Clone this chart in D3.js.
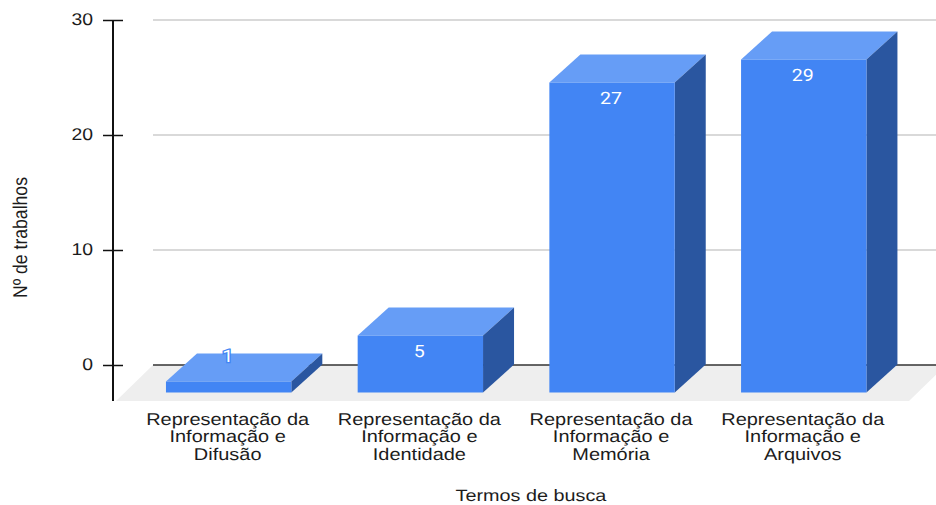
<!DOCTYPE html>
<html>
<head>
<meta charset="utf-8">
<script src="https://cdn.jsdelivr.net/npm/d3@7"></script>
<style>
html,body{margin:0;padding:0;background:#fff;overflow:hidden}
svg{display:block;text-rendering:geometricPrecision}
</style>
</head>
<body>
<svg id="chart" width="936" height="505"></svg>
<script>
const categories = ["Difusão", "Identidade", "Memória", "Arquivos"];
const values = [1, 5, 27, 29];
const labelLines = ["Representação da", "Informação e"];
const yTicks = [0, 10, 20, 30];
const xTitle = "Termos de busca";
const yTitle = "Nº de trabalhos";

const svg = d3.select("#chart");
const sans = "'Liberation Sans', Arial, sans-serif";
const ink = "#1c1c1c";
const depthX = 31, depthY = 28, floorY = 27.5, floorEdge = 36, stretch = 1.173;

const y = d3.scaleLinear().domain([0, 30]).range([365, 20]);
const x = d3.scaleBand().domain(categories).range([132.8, 899.6]).paddingInner(0.346).paddingOuter(0.173);

// floor
const y0 = y(0);
svg.append("path")
  .attr("d", d3.line()([[153, y0], [946, y0], [909, y0 + floorEdge], [116, y0 + floorEdge]]) + "Z")
  .attr("fill", "#eeeeee");

// grid
svg.append("g").selectAll("line").data(yTicks).join("line")
  .attr("x1", 153).attr("x2", 936)
  .attr("y1", d => y(d)).attr("y2", d => y(d))
  .attr("stroke", d => d === 0 ? "#333333" : "#cccccc")
  .attr("stroke-width", 1.5);

// axis
const axis = svg.append("g").attr("transform", "translate(113,0)")
  .call(d3.axisLeft(y).tickValues(yTicks).tickSize(10).tickPadding(10).tickFormat(d3.format("d")));
axis.select(".domain").remove();
axis.selectAll(".tick line").attr("x1", -10).attr("x2", 10).attr("stroke", "#111").attr("stroke-width", 1.5);
axis.selectAll(".tick text")
  .attr("x", 0).attr("dy", "0.27em")
  .attr("font-family", sans).attr("font-size", 17).attr("fill", ink)
  .attr("transform", `translate(-20,0) scale(1.14,1)`);
axis.append("line").attr("y1", y(30)).attr("y2", y0 + floorEdge).attr("stroke", "#111").attr("stroke-width", 2);

// bars
const rows = categories.map((c, i) => ({c, v: values[i]}));
const bars = svg.append("g").selectAll("g").data(rows).join("g");
const poly = pts => d3.line()(pts) + "Z";
const bottom = y0 + floorY;
bars.append("path").attr("fill", "#669df6").attr("d", d => {
  const l = x(d.c), r = l + x.bandwidth(), b = y(d.v), f = b + depthY;
  return poly([[l, f], [l + depthX, b], [r + depthX, b], [r, f]]);
});
bars.append("path").attr("fill", "#2a56a0").attr("d", d => {
  const r = x(d.c) + x.bandwidth(), b = y(d.v), f = b + depthY;
  return poly([[r, f], [r + depthX, b], [r + depthX, bottom - depthY], [r, bottom]]);
});
bars.append("rect").attr("fill", "#4285f4")
  .attr("x", d => x(d.c)).attr("width", x.bandwidth())
  .attr("y", d => y(d.v) + depthY).attr("height", d => bottom - y(d.v) - depthY);

// value labels
bars.append("text")
  .attr("transform", d => {
    const cy = bottom - y(d.v) - depthY < 30 ? y(d.v) + 2 : y(d.v) + depthY + 15.5;
    return `translate(${x(d.c) + x.bandwidth() / 2 - 1},${cy}) scale(1.15,1)`;
  })
  .attr("dy", "0.36em")
  .attr("text-anchor", "middle")
  .attr("font-family", "Roboto, sans-serif")
  .attr("font-size", 17)
  .attr("fill", "#ffffff")
  .attr("stroke", "#4285f4")
  .attr("stroke-width", 2.5)
  .attr("paint-order", "stroke")
  .text(d => d.v);

// category labels
const cat = svg.append("g").selectAll("text").data(categories).join("text")
  .attr("transform", c => `translate(${x(c) + x.bandwidth() / 2 - 1},0) scale(${stretch},1)`)
  .attr("text-anchor", "middle")
  .attr("font-family", sans).attr("font-size", 17).attr("fill", ink);
cat.each(function (c) {
  [...labelLines, c].forEach((t, i) => {
    d3.select(this).append("tspan").attr("x", 0).attr("y", 424.5 + i * 17.5).text(t);
  });
});

// titles
svg.append("text").attr("transform", "translate(531,501.4) scale(1.2,1)").attr("text-anchor", "middle")
  .attr("font-family", sans).attr("font-size", 16.5).attr("fill", ink).text(xTitle);
svg.append("text").attr("transform", `translate(26.5,237.5) rotate(-90) scale(1.035,${stretch})`).attr("text-anchor", "middle")
  .attr("font-family", sans).attr("font-size", 17).attr("fill", ink).text(yTitle);
</script>
</body>
</html>
